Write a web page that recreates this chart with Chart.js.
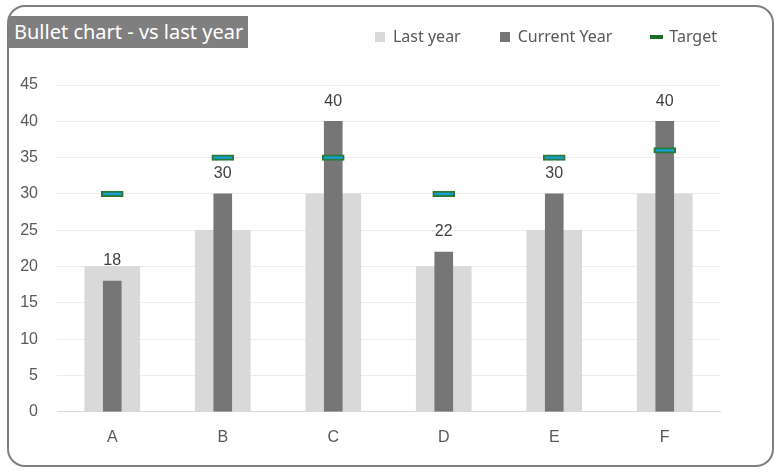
<!DOCTYPE html>
<html lang="en">
<head>
    <meta charset="UTF-8">
    <title>Bullet chart - vs last year</title>
    <script src="https://cdn.jsdelivr.net/npm/chart.js"></script>
    <style>
        body { margin: 0; background: #fff; }
        .quadro {
            position: absolute; left: 7px; top: 5px; width: 763px; height: 458px;
            border: 2px solid #7f7f7f; border-radius: 18px;
        }
        .titulo {
            position: absolute; left: 9px; top: 16px; height: 32px; line-height: 32px;
            padding: 0 5px 0 5px; background: #7f7f7f; color: #fff;
            font-family: "Noto Sans", sans-serif; font-size: 20px;
        }
        .grafico { position: absolute; left: 0; top: 0; width: 780px; height: 473px; }
    </style>
</head>
<body>
    <div class="quadro"></div>
    <div class="grafico"><canvas id="bullet"></canvas></div>
    <div class="titulo">Bullet chart - vs last year</div>

<script>
    // dados
    const categorias = ['A', 'B', 'C', 'D', 'E', 'F'];
    const anoPassado = [20, 25, 30, 20, 25, 30];
    const anoAtual = [18, 30, 40, 22, 30, 40];
    const metas = [30, 35, 35, 30, 35, 36];
    const ticksY = [0, 5, 10, 15, 20, 25, 30, 35, 40, 45];

    // metade da altura do marcador de meta (em unidades do eixo)
    const meia = 0.38;

    function icone(w, h, cor) {
        const c = document.createElement('canvas');
        c.width = w; c.height = h;
        const g = c.getContext('2d');
        g.fillStyle = cor;
        g.fillRect(0, 0, w, h);
        return c;
    }

    // rótulos em cima das barras do ano atual
    const rotulos = {
        id: 'rotulos',
        afterDatasetsDraw(chart) {
            const meta = chart.getDatasetMeta(1);
            const ctx = chart.ctx;
            ctx.save();
            ctx.font = '16px "Liberation Sans", Arial, sans-serif';
            ctx.fillStyle = '#404040';
            ctx.textAlign = 'center';
            ctx.textBaseline = 'middle';
            meta.data.forEach((barra, i) => {
                ctx.fillText(anoAtual[i], barra.x, barra.y - 20);
            });
            ctx.restore();
        }
    };

    // espaço e posição da legenda
    const margemLegenda = {
        id: 'margemLegenda',
        beforeInit(chart) {
            const fitOriginal = chart.legend.fit;
            chart.legend.fit = function () {
                fitOriginal.bind(chart.legend)();
                this.height = 95;
            };
        },
        afterLayout(chart) {
            chart.legend.left += 36;
            chart.legend.right += 36;
        }
    };

    const icones = [icone(10, 10, '#d9d9d9'), icone(10, 10, '#767676'), icone(13, 4, '#1e6b24')];

    new Chart(document.getElementById('bullet'), {
        type: 'bar',
        data: {
            labels: categorias,
            datasets: [{
                label: 'Last year',
                data: anoPassado,
                backgroundColor: '#d9d9d9',
                barThickness: 55,
                grouped: false,
                order: 3
            }, {
                label: 'Current Year',
                data: anoAtual,
                backgroundColor: '#767676',
                barThickness: 18,
                grouped: false,
                order: 2
            }, {
                label: 'Target',
                data: metas.map(m => [m - meia, m + meia]),
                backgroundColor: '#15a0d8',
                borderColor: '#2b7a38',
                borderWidth: 2,
                borderSkipped: false,
                barThickness: 22,
                grouped: false,
                order: 1
            }]
        },
        options: {
            responsive: true,
            maintainAspectRatio: false,
            animation: false,
            layout: { padding: { top: -10, left: 10, right: 60, bottom: 10 } },
            plugins: {
                tooltip: { enabled: false },
                legend: {
                    position: 'top',
                    align: 'end',
                    labels: {
                        padding: 39,
                        usePointStyle: true,
                        pointStyleWidth: 10,
                        boxHeight: 10,
                        color: '#595959',
                        font: { family: '"Noto Sans", sans-serif', size: 16 },
                        generateLabels(chart) {
                            return chart.data.datasets.map((ds, i) => ({
                                text: ds.label,
                                pointStyle: icones[i],
                                fontColor: '#595959',
                                lineWidth: 0,
                                datasetIndex: i
                            }));
                        }
                    }
                }
            },
            scales: {
                x: {
                    grid: { display: false, drawTicks: false },
                    border: { color: '#d9d9d9', width: 1 },
                    ticks: {
                        padding: 16,
                        color: '#595959',
                        font: { family: '"Liberation Sans", Arial, sans-serif', size: 16 }
                    }
                },
                y: {
                    min: 0,
                    max: 45,
                    afterFit(s) { s.width = 47; },
                    afterBuildTicks(s) { s.ticks = ticksY.map(v => ({ value: v })); },
                    grid: { color: '#ececec', drawTicks: false },
                    border: { display: false },
                    ticks: {
                        padding: 19,
                        color: '#595959',
                        font: { family: '"Liberation Sans", Arial, sans-serif', size: 16 }
                    }
                }
            }
        },
        plugins: [rotulos, margemLegenda]
    });
</script>
</body>
</html>
